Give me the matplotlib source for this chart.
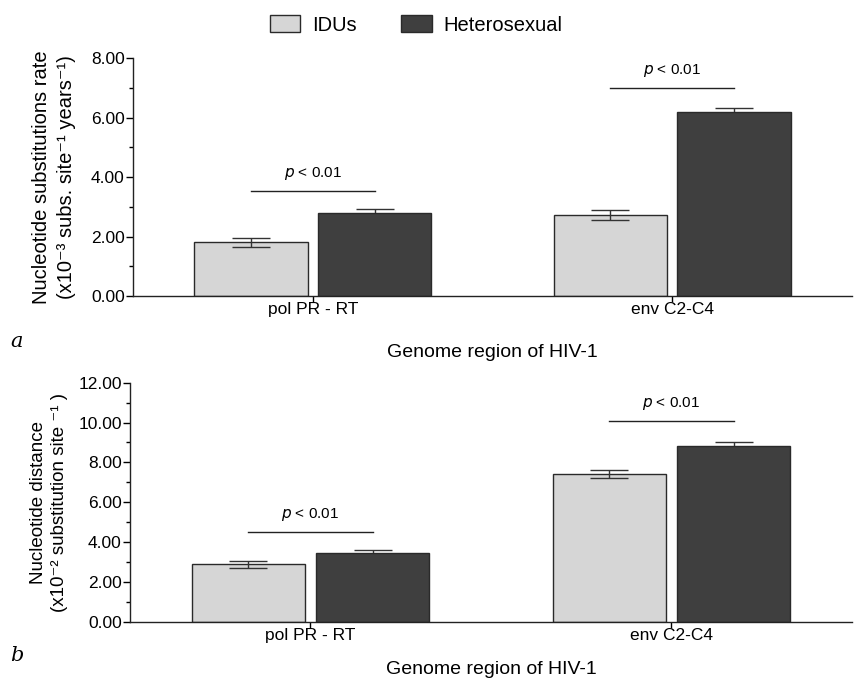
import numpy as np
import matplotlib.pyplot as plt
from matplotlib.patches import Patch

# ==========================
# DATA
# ==========================

regions = ["pol PR - RT", "env C2-C4"]
groups = ["IDUs", "Heterosexual"]

rate_idu = [1.81, 2.72]
rate_idu_err = [0.15, 0.18]
rate_het = [2.78, 6.18]
rate_het_err = [0.14, 0.15]

dist_idu = [2.88, 7.42]
dist_idu_err = [0.17, 0.21]
dist_het = [3.47, 8.84]
dist_het_err = [0.13, 0.20]

p_text = ["p < 0.01", "p < 0.01"]
rate_p_y = [3.54, 7.0]
dist_p_y = [4.52, 10.1]

# ==========================
# STYLE
# ==========================

plt.rcParams["font.family"] = ["Liberation Sans", "DejaVu Sans"]

light = "#d6d6d6"
dark = "#3f3f3f"
edge = "#2a2a2a"

width = 0.315
offset = 0.172

fig = plt.figure(figsize=(8.55, 6.79), dpi=100)

ax_a = fig.add_axes([0.1556, 0.5640, 0.8409, 0.3505])
ax_b = fig.add_axes([0.1520, 0.0844, 0.8445, 0.3520])


def draw_panel(ax, idu, idu_err, het, het_err, p_y, ymax, ylabel,
               ysize, ypad, xpad):
    x = np.arange(len(regions))

    ax.bar(x - offset, idu, width, color=light, edgecolor=edge,
           linewidth=1.0, zorder=2)
    ax.bar(x + offset, het, width, color=dark, edgecolor=edge,
           linewidth=1.0, zorder=2)

    ax.errorbar(x - offset, idu, yerr=idu_err, fmt="none",
                ecolor="#333333", elinewidth=1.0, capsize=14,
                capthick=1.0, zorder=3)
    ax.errorbar(x + offset, het, yerr=het_err, fmt="none",
                ecolor="#333333", elinewidth=1.0, capsize=14,
                capthick=1.0, zorder=1)

    for i in range(len(regions)):
        ax.plot([x[i] - offset, x[i] + offset], [p_y[i], p_y[i]],
                color="#222222", linewidth=1.0)
        ax.text(x[i], p_y[i] + ymax * 0.035, p_text[i].replace("p", "$p$", 1),
                ha="center", va="bottom", fontsize=11)

    ax.set_xlim(-0.5, 1.5)
    ax.set_ylim(0, ymax)

    ax.set_xticks(x)
    ax.set_xticklabels(regions, fontsize=12.5)
    ax.set_yticks(np.arange(0, ymax + 0.1, 2))
    ax.set_yticklabels([f"{v:.2f}" for v in np.arange(0, ymax + 0.1, 2)],
                       fontsize=12.5)
    ax.set_yticks(np.arange(1, ymax, 2), minor=True)

    ax.tick_params(axis="y", which="major", length=5, width=1, pad=1)
    ax.tick_params(axis="y", which="minor", length=3, width=1)
    ax.tick_params(axis="x", length=4, width=1, pad=0.5)

    for side in ["top", "right"]:
        ax.spines[side].set_visible(False)
    for side in ["left", "bottom"]:
        ax.spines[side].set_linewidth(1.0)
        ax.spines[side].set_color("#222222")

    ax.set_xlabel("Genome region of HIV-1", fontsize=14, labelpad=xpad)
    ax.set_ylabel(ylabel, fontsize=ysize, labelpad=ypad, linespacing=1.35)


# ==========================
# PANEL A
# ==========================

draw_panel(ax_a, rate_idu, rate_idu_err, rate_het, rate_het_err,
           rate_p_y, 8,
           "Nucleotide substitutions rate\n"
           "(x10\u207b\u00b3 subs. site\u207b\u00b9 years\u207b\u00b9)",
           14.5, 11, 19)

# ==========================
# PANEL B
# ==========================

draw_panel(ax_b, dist_idu, dist_idu_err, dist_het, dist_het_err,
           dist_p_y, 12,
           "Nucleotide distance\n"
           "(x10\u207b\u00b2 substitution site \u207b\u00b9 )",
           13.5, 7, 13)

# ==========================
# LEGEND AND PANEL LETTERS
# ==========================

handles = [
    Patch(facecolor=light, edgecolor=edge, linewidth=1.0),
    Patch(facecolor=dark, edgecolor=edge, linewidth=1.0),
]

fig.legend(handles, groups, loc="center", bbox_to_anchor=(0.487, 0.963),
           ncol=2, frameon=False, fontsize=14.5, handlelength=1.5,
           handleheight=0.9, handletextpad=0.6, columnspacing=2.2)

fig.text(0.012, 0.497, "a", fontsize=15, family="DejaVu Serif",
         style="italic", va="center")
fig.text(0.012, 0.035, "b", fontsize=15, family="DejaVu Serif",
         style="italic", va="center")

plt.savefig("out.png", dpi=100)
